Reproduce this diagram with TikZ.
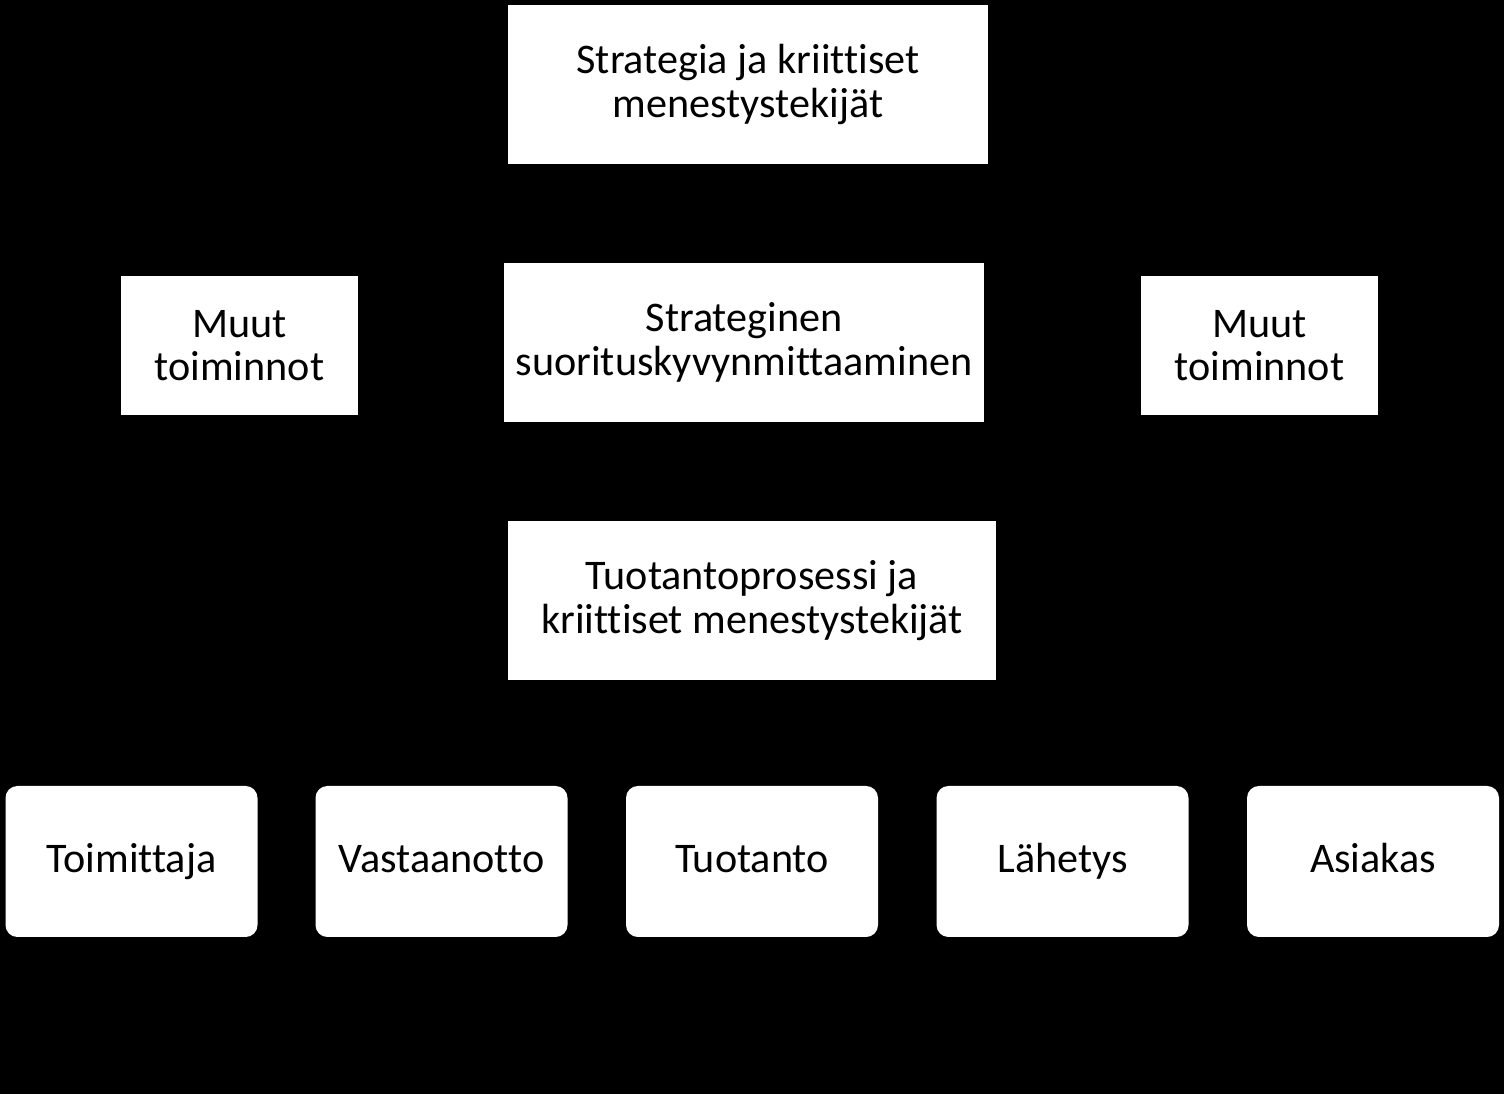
\documentclass[tikz,border=0pt]{standalone}
\usepackage{fontspec}
\setmainfont{Carlito}[Ligatures=NoCommon]
\begin{document}
\begin{tikzpicture}[
  laatikko/.style={fill=white,inner sep=0pt,align=center,
    font=\fontsize{12}{12.4}\selectfont},
  vaihe/.style={laatikko,rounded corners=3.4pt,minimum width=2.52cm,minimum height=1.51cm,
    text height=0.8em,text depth=0.15em}
]
  % tausta
  \fill[black] (0,0) rectangle (15.04,10.94);
  \useasboundingbox (0,0) rectangle (15.04,10.94);
  % ylimmät laatikot
  \node[laatikko,minimum width=4.8cm,minimum height=1.59cm] (strategia) at (7.48,10.095)
    {Strategia ja kriittiset\\menestystekijät};
  \node[laatikko,minimum width=4.8cm,minimum height=1.59cm] (mittaus) at (7.44,7.515)
    {Strateginen\\suorituskyvynmittaaminen};
  \node[laatikko,minimum width=2.37cm,minimum height=1.39cm] (muutV) at (2.395,7.485)
    {Muut\\toiminnot};
  \node[laatikko,minimum width=2.37cm,minimum height=1.39cm] (muutO) at (12.595,7.485)
    {Muut\\toiminnot};
  \node[laatikko,minimum width=4.88cm,minimum height=1.59cm] (prosessi) at (7.52,4.935)
    {Tuotantoprosessi ja\\kriittiset menestystekijät};
  % prosessin vaiheet
  \node[vaihe] (toimittaja) at (1.315,2.325) {Toimittaja};
  \node[vaihe] (vastaanotto) at (4.415,2.325) {Vastaanotto};
  \node[vaihe] (tuotanto) at (7.52,2.325) {Tuotanto};
  \node[vaihe] (lahetys) at (10.625,2.325) {Lähetys};
  \node[vaihe] (asiakas) at (13.73,2.325) {Asiakas};
\end{tikzpicture}
\end{document}
